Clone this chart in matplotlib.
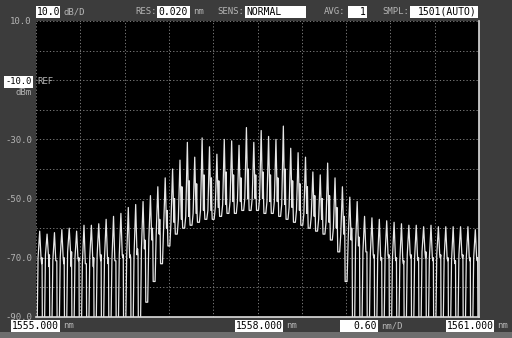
import numpy as np
import matplotlib.pyplot as plt
from matplotlib.patches import Rectangle

# OSA sweep: comb lines every 0.1 nm from 1555.05 nm
start_nm = 1555.0
stop_nm = 1561.0
line_step = 0.1

peak_dbm = [-61, -62, -61.5, -60.5, -60, -61, -59, -59, -58.5, -57,
            -56, -55, -53, -52, -51, -49, -46, -43, -40, -37,
            -31, -36, -29.5, -32.5, -35, -30, -30.5, -32, -26, -31,
            -27, -29, -30, -25.5, -33, -34.5, -36, -41, -42, -38,
            -43, -46, -49.5, -51, -56, -56.5, -57, -57.5, -58, -58.5,
            -59, -59, -59.5, -59, -59.5, -59.5, -59.5, -59.5, -59.5, -60.5]

shoulder_dbm = [-70, -69, -71, -70, -68, -70, -72, -70, -69, -70,
                -71, -69, -70, -69, -67, -64, -62, -60, -58, -57,
                -56, -55, -54, -54, -53, -52, -51, -51, -50, -50,
                -50, -51, -51, -52, -53, -54, -55, -56, -57, -58,
                -60, -62, -64, -66, -68, -69, -70, -69, -70, -71,
                -69, -70, -68, -70, -69, -70, -71, -69, -70, -70]

# secondary bump between neighbouring lines
side_dbm = [-72, -73, -71, -72, -73, -71, -72, -73, -71, -72,
            -71, -70, -69, -67, -64, -60, -57, -54, -50, -46,
            -44, -45, -42, -43, -44, -41, -42, -43, -40, -42,
            -41, -42, -43, -40, -44, -45, -46, -49, -50, -49,
            -53, -56, -60, -63, -68, -70, -71, -70, -71, -72,
            -70, -71, -70, -71, -70, -71, -72, -70, -71, -71]

# minimum between neighbouring lines (61 boundaries incl. both span ends)
gap_dbm = [-98, -98, -98, -98, -98, -98, -98, -98, -98, -98,
           -98, -98, -98, -98, -98, -85, -78, -72, -66, -62,
           -60, -59, -58, -57, -57, -56, -55, -55, -54, -54,
           -54, -55, -55, -56, -57, -58, -59, -60, -61, -62,
           -64, -68, -78, -98, -98, -98, -98, -98, -98, -98,
           -98, -98, -98, -98, -98, -98, -98, -98, -98, -98, -98]

# build the displayed trace
wl, lvl = [], []
for j in range(len(gap_dbm)):
    b = start_nm + j * line_step
    wl += [b - 0.013, b + 0.013]
    lvl += [gap_dbm[j], gap_dbm[j]]
    if j < len(peak_dbm):
        c = b + line_step / 2
        wl += [c - 0.022, c, c + 0.018, c + 0.026, c + 0.032]
        lvl += [shoulder_dbm[j], peak_dbm[j], shoulder_dbm[j],
                side_dbm[j], shoulder_dbm[j]]

W, H = 512, 338
plt.rcParams['font.family'] = 'DejaVu Sans Mono'
fig = plt.figure(figsize=(W / 100, H / 100), dpi=100, facecolor='#3c3c3c')

def fx(x):
    return x / W

def fy(y):
    return 1 - y / H

ax = fig.add_axes([fx(36), fy(317), fx(479 - 36), (317 - 21) / H])
ax.set_facecolor('black')
ax.plot(wl, lvl, color='#e6e6e6', lw=0.9)
ax.set_xlim(start_nm, stop_nm)
ax.set_ylim(-90, 10)

ax.set_xticks(np.linspace(start_nm, stop_nm, 11))
ax.set_xticklabels([])
y_ticks = np.arange(10, -91, -10)
y_labels = ['10.0', '', '', '', '-30.0', '', '-50.0', '', '-70.0', '', '-90.0']
ax.set_yticks(y_ticks)
ax.set_yticklabels(y_labels, fontsize=6.5, color='#b4b4b4')
ax.tick_params(length=0, pad=3)
ax.grid(True, color='#8c8c8c', ls=(0, (1.5, 2.5)), lw=0.6)
for s in ['left', 'top']:
    ax.spines[s].set_visible(False)
for s in ['right', 'bottom']:
    ax.spines[s].set_color('#dcdcdc')
    ax.spines[s].set_linewidth(1.2)

# lighter strip along the bottom edge of the screen
fig.patches.append(Rectangle((0, 0), 1, fy(332), transform=fig.transFigure,
                             fc='#6e6e6e', ec='none', zorder=-1))

def label(x, y, s, ha='left'):
    fig.text(fx(x), fy(y), s, color='#b4b4b4', fontsize=6.5, ha=ha, va='center')

def field(x0, x1, y, s, ha='left', size=7):
    fig.patches.append(Rectangle((fx(x0), fy(y + 6)), fx(x1 - x0), 12 / H,
                                 transform=fig.transFigure, fc='white', ec='none'))
    tx = x0 + 1 if ha == 'left' else x1 - 1
    fig.text(fx(tx), fy(y), s, color='black', fontsize=size, ha=ha, va='center')

# header
field(36, 60, 12, '10.0')
label(64, 12, 'dB/D')
label(135, 12, 'RES:')
field(157, 190, 12, '0.020')
label(193, 12, 'nm')
label(217, 12, 'SENS:')
field(245, 306, 12, 'NORMAL')
label(324, 12, 'AVG:')
field(348, 367, 12, '1', ha='right')
label(382, 12, 'SMPL:')
field(410, 478, 12, '1501(AUTO)', ha='right')

# reference level
field(4, 33, 82, '-10.0', ha='right', size=6.3)
label(37, 82, 'REF')
label(32, 92, 'dBm', ha='right')

# footer
field(11, 60, 326, '1555.000')
label(63, 326, 'nm')
field(235, 283, 326, '1558.000')
label(286, 326, 'nm')
field(340, 378, 326, '0.60', ha='right')
label(381, 326, 'nm/D')
field(446, 494, 326, '1561.000')
label(497, 326, 'nm')

fig.savefig('out.png', dpi=100, facecolor=fig.get_facecolor())
